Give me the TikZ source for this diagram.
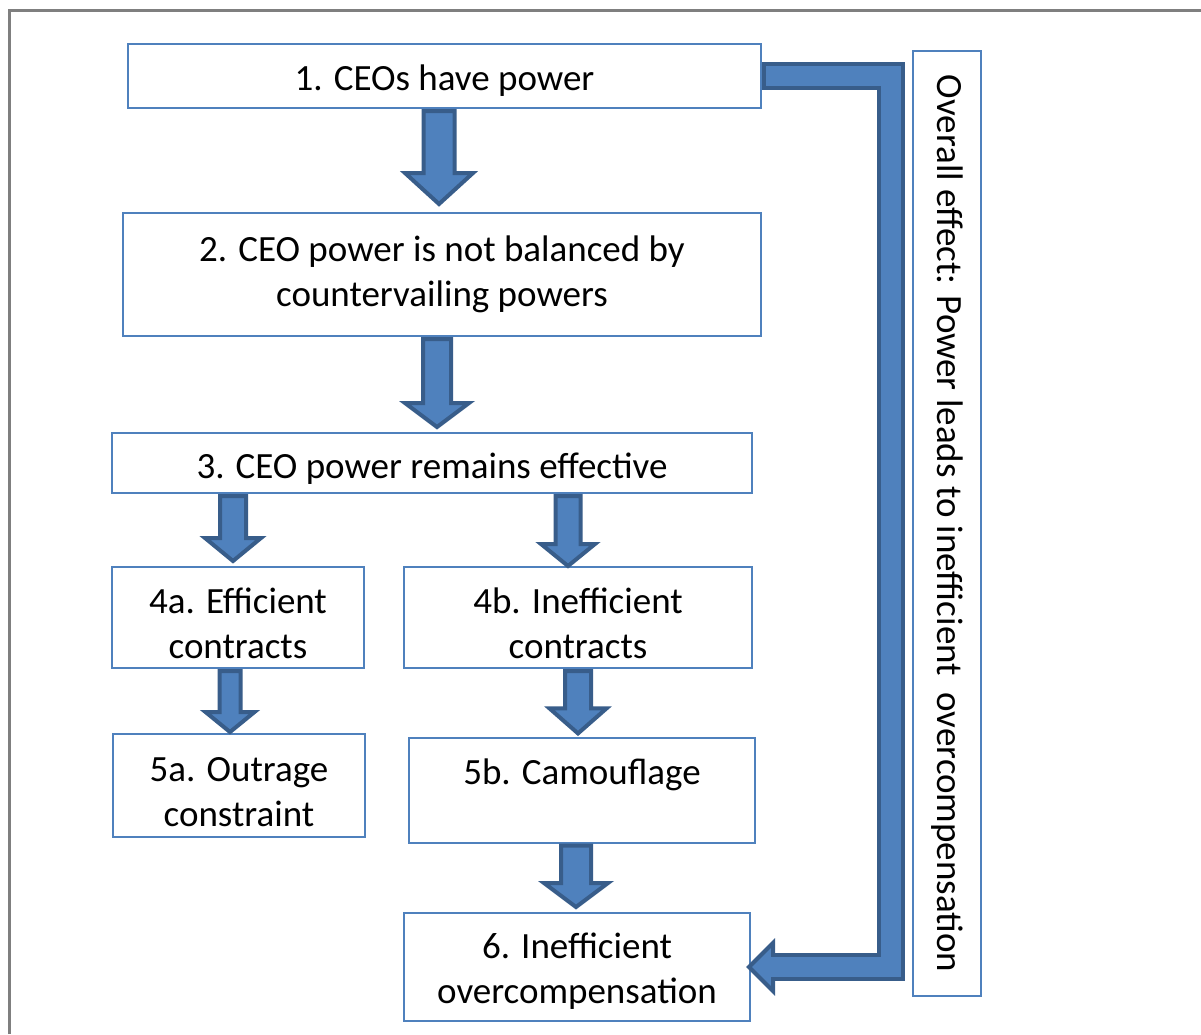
\documentclass[tikz,border=0pt]{standalone}
\usepackage{fontspec}
\setmainfont{Carlito}
\usetikzlibrary{calc}
\definecolor{bxblue}{HTML}{4F81BD}
\definecolor{arrfill}{HTML}{4F81BD}
\definecolor{arrline}{HTML}{385D8A}
\definecolor{framegray}{HTML}{7F7F7F}
\tikzset{
  box/.style={draw=bxblue, line width=2pt, fill=white, inner sep=0pt, align=center,
    font=\fontsize{37}{45}\selectfont, text=black},
  blockarr/.style={fill=arrfill, draw=arrline, line width=4pt, line join=miter},
}
% invisible strut that lowers the text block by half of #1
\newcommand\dn[1]{\rule{0pt}{\dimexpr\fontcharht\font`l+#1\relax}}
% #1 x, #2 from node, #3 to node, #4 gap, #5 shaft half width, #6 head half width, #7 head length
\newcommand\blkarrow[7]{%
  \coordinate (s) at ($(#2.south -| #1,0)+(0,2)$);
  \coordinate (t) at ($(#3.north -| #1,0)+(0,#4)$);
  \draw[blockarr] ($(s)+(-#5,0)$) -- ($(s)+(#5,0)$) -- ($(t)+(#5,-#7)$) -- ($(t)+(#6,-#7)$)
    -- (t) -- ($(t)+(-#6,-#7)$) -- ($(t)+(-#5,-#7)$) -- cycle;
}
\begin{document}
\begin{tikzpicture}[x=1pt,y=-1pt]
\useasboundingbox (0,0) rectangle (1201,1034);
\fill[white] (0,0) rectangle (1201,1034);
\draw[framegray, line width=2.8pt] (9.5,1034) -- (9.5,10.5) -- (1201,10.5);

\node[box, minimum width=633, minimum height=64] (n1) at (444.5,76) {\dn{10pt}1. CEOs have power};
\node[box, minimum width=638, minimum height=123] (n2) at (442,274.5) {2. CEO power is not balanced by\\countervailing powers};
\node[box, minimum width=640, minimum height=60] (n3) at (432,463) {\dn{12pt}3. CEO power remains effective};
\node[box, minimum width=252, minimum height=101] (n4a) at (238,617.5) {\dn{12pt}4a. Efficient\\contracts};
\node[box, minimum width=348, minimum height=101] (n4b) at (578,617.5) {\dn{12pt}4b. Inefficient\\contracts};
\node[box, minimum width=252, minimum height=103] (n5a) at (239,785.5) {\dn{12pt}5a. Outrage\\constraint};
\node[box, minimum width=346, minimum height=103] (n5b) at (582,790.5) {\dn{20pt}5b. Camouflage\\\strut};
\node[box, minimum width=346, minimum height=108] (n6) at (577,967) {\dn{9pt}6. Inefficient\\overcompensation};
\node[box, minimum width=945, minimum height=68, rotate=-90] (side) at (947,523.5)
  {Overall effect: Power leads to inefficient \ overcompensation};

\blkarrow{439}{n1}{n2}{-8}{15.5}{34}{31}
\blkarrow{437}{n2}{n3}{-5}{14}{32}{24}
\blkarrow{233}{n3}{n4a}{-5}{13}{28}{23}
\blkarrow{568}{n3}{n4b}{0}{12.5}{27}{22}
\blkarrow{230}{n4a}{n5a}{-1}{10.5}{24.5}{20}
\blkarrow{578}{n4b}{n5b}{-4}{13}{28.5}{25}
\blkarrow{576}{n5b}{n6}{-5}{15}{32}{24}

% elbow connector from box 1 to box 6
\coordinate (c1) at (n1.east -| 891,0);
\coordinate (c2) at (n6.east -| 891,0);
\coordinate (hb) at ($(n6.east)+(22,0)$);
\coordinate (tip) at ($(n6.east)+(-2,0)$);
\draw[arrline, line width=28pt, line join=miter] (n1.east) -- (c1) -- (c2) -- (hb);
\draw[blockarr] ($(hb)+(0,-24)$) -- (tip) -- ($(hb)+(0,24)$) -- cycle;
\draw[arrfill, line width=20pt, line join=miter] ($(n1.east)+(4,0)$) -- (c1) -- (c2) -- ($(hb)+(-3,0)$);
\end{tikzpicture}
\end{document}
